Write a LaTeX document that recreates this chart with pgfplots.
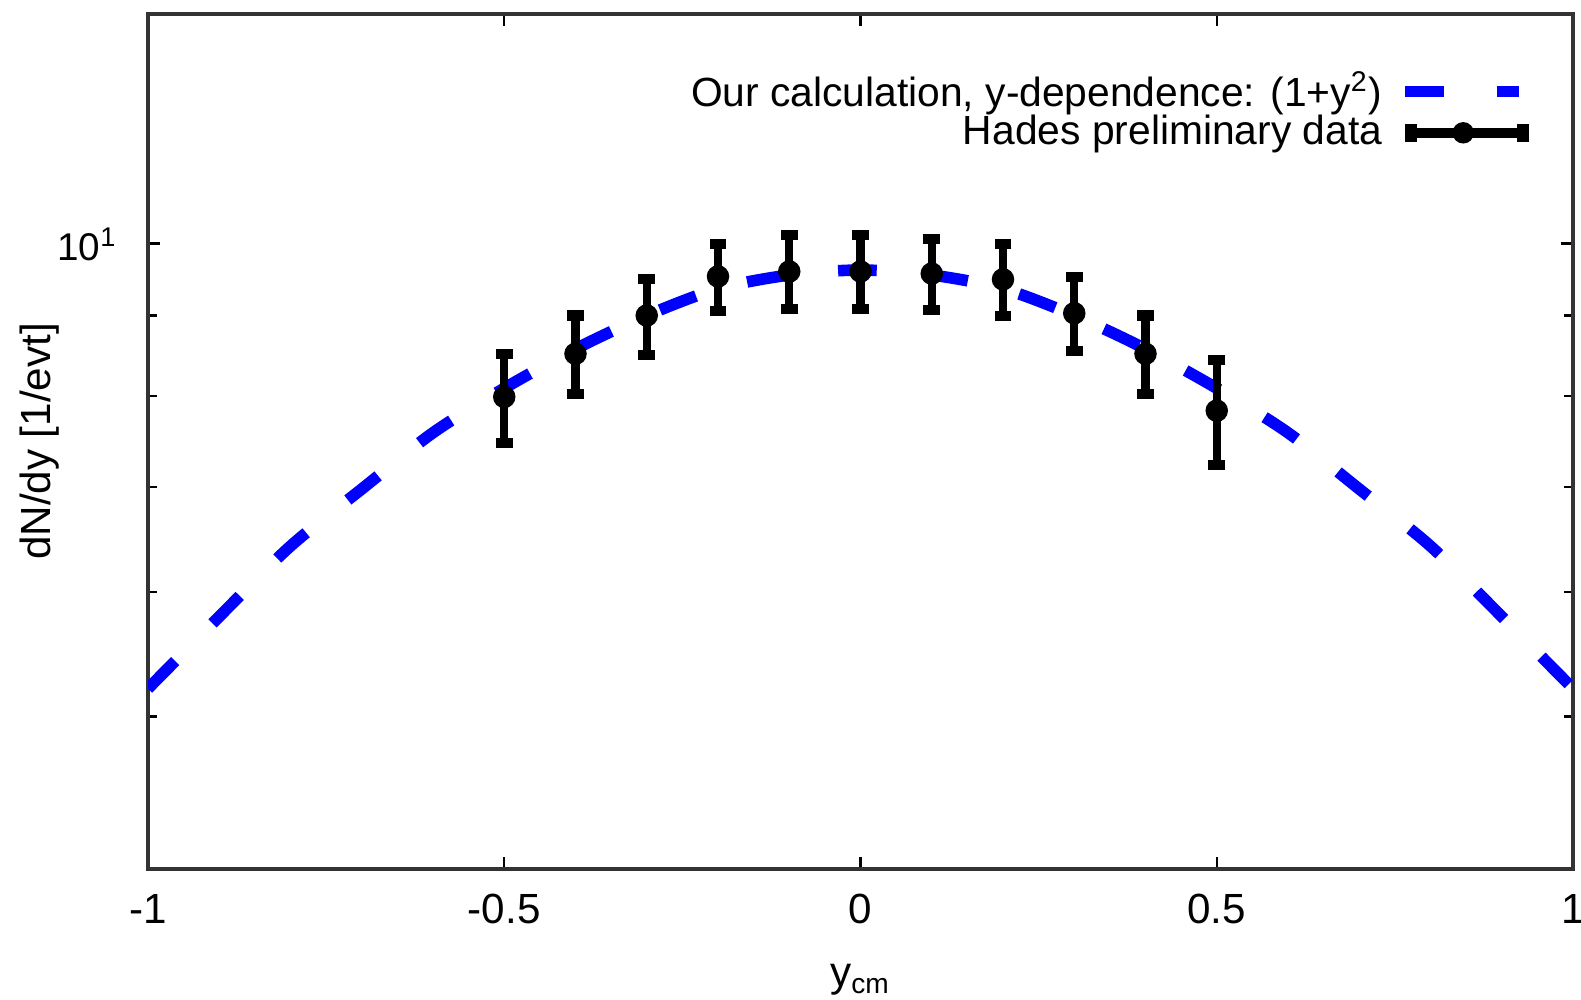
\documentclass[border=0pt]{standalone}
\usepackage{pgfplots}
\pgfplotsset{compat=1.18}
\usepackage{fontspec}
\setmainfont{Liberation Sans}
\begin{document}
\begin{tikzpicture}
\begin{axis}[
  scale only axis, width=14.25cm, height=8.55cm,
  xmin=-1, xmax=1, ymode=log, ymin=4, ymax=14,
  xtick={-1,-0.5,0,0.5,1}, xticklabels={-1,-0.5,0,0.5,1},
  ytick={10}, yticklabels={10\textsuperscript{1}},
  minor ytick={5,6,7,8,9},
  tick align=inside, major tick length=0.12cm, minor tick length=0.09cm,
  tick style={black, line width=0.7pt},
  axis line style={line width=0.9pt, black!80},
  font=\fontsize{12}{14}\selectfont,
  xticklabel style={anchor=center, yshift=-0.40cm},
  yticklabel style={anchor=base east, inner sep=0pt, xshift=-0.30cm, yshift=-0.17cm,
    font=\fontsize{11}{13}\selectfont},
  xlabel={y\textsubscript{cm}}, ylabel={dN/dy [1/evt]},
  xlabel style={at={(axis description cs:0.5,-0.130)}, anchor=center},
  ylabel style={at={(axis description cs:-0.0758,0.5)}, anchor=center},
  legend plot pos=right, legend cell align=right,
  legend style={at={(rel axis cs:0.980,0.946)}, anchor=north east, draw=none, fill=none,
    row sep=-1pt, column sep=4pt, nodes={inner sep=1pt},
    font=\fontsize{11.6}{13}\selectfont},
]
% model curve
\addplot[blue, line width=3.3pt, dash pattern=on 11pt off 15.1pt, smooth,
  legend image code/.code={\draw[blue, line width=3.1pt, dash pattern=on 11pt off 15pt] (0pt,0pt) -- (32.4pt,0pt);}] coordinates {
  (-1,5.21) (-0.9,5.79) (-0.8,6.42) (-0.7,6.98) (-0.6,7.58) (-0.5,8.09)
  (-0.4,8.57) (-0.3,9.0) (-0.2,9.36) (-0.1,9.55) (0,9.62) (0.1,9.55)
  (0.2,9.36) (0.3,9.0) (0.4,8.57) (0.5,8.09) (0.6,7.58) (0.7,6.98)
  (0.8,6.42) (0.9,5.79) (1,5.21)
};
\addlegendentry{Our calculation, y-dependence: (1+y\textsuperscript{2})}
% Hades data
\addplot[black, only marks, mark=*, mark size=3pt,
  error bars/.cd, y dir=both, y explicit, error mark=none,
  error bar style={line width=2.3pt, black},
  /pgfplots/legend image code/.code={
    \draw[black, line width=2.85pt] (0pt,0pt) -- (35pt,0pt);
    \fill[black] (0pt,-2.4pt) rectangle (3.1pt,2.4pt);
    \fill[black] (31.9pt,-2.4pt) rectangle (35pt,2.4pt);
    \fill[black] (16.5pt,0pt) circle (2.85pt);}] coordinates {
  (-0.5,7.99) +- (0,0.52)
  (-0.4,8.51) +- (0,0.49)
  (-0.3,9.00) +- (0,0.50)
  (-0.2,9.53) +- (0,0.47)
  (-0.1,9.60) +- (0,0.52)
  (0,9.60) +- (0,0.52)
  (0.1,9.57) +- (0,0.50)
  (0.2,9.49) +- (0,0.50)
  (0.3,9.03) +- (0,0.49)
  (0.4,8.51) +- (0,0.49)
  (0.5,7.83) +- (0,0.60)
};
\addlegendentry{Hades preliminary data}
% error bar caps (upper and lower ends of the bars)
\addplot[black, only marks, mark=-, mark size=2.4pt,
  mark options={line width=2.85pt}, forget plot] coordinates {
  (-0.5,8.51) (-0.5,7.47) (-0.4,9.00) (-0.4,8.02) (-0.3,9.50) (-0.3,8.50)
  (-0.2,10.00) (-0.2,9.06) (-0.1,10.12) (-0.1,9.08) (0,10.12) (0,9.08)
  (0.1,10.07) (0.1,9.07) (0.2,9.99) (0.2,8.99) (0.3,9.52) (0.3,8.54)
  (0.4,9.00) (0.4,8.02) (0.5,8.43) (0.5,7.23)
};
\end{axis}
\pgfresetboundingbox
\path[use as bounding box] (-1.48cm,-1.31cm) rectangle (14.33cm,8.69cm);
\end{tikzpicture}
\end{document}
